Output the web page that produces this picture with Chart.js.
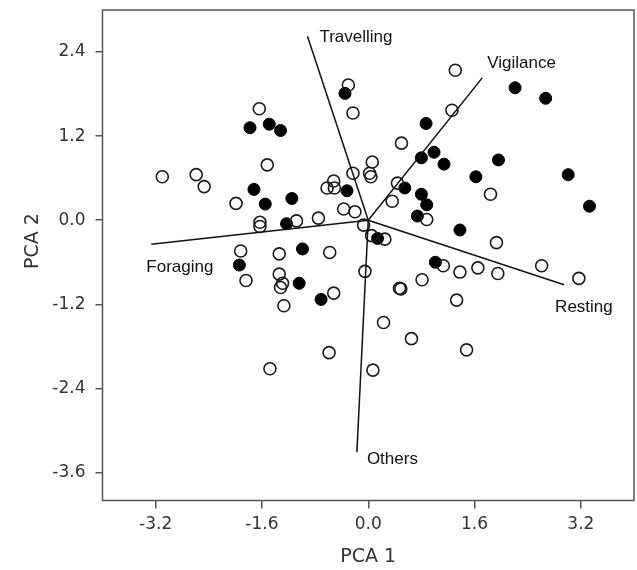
<!DOCTYPE html>
<html><head><meta charset="utf-8">
<script src="https://cdn.jsdelivr.net/npm/chart.js@4/dist/chart.umd.min.js"></script>
<style>html,body{margin:0;padding:0;background:#fff}#wrap{width:637px;height:570px}</style>
</head><body><div id="wrap"><canvas id="c" width="637" height="570"></canvas></div>
<script>
// Tick labels
const xTicks = [-3.2, -1.6, 0, 1.6, 3.2];
const yTicks = [2.4, 1.2, 0, -1.2, -2.4, -3.6];

// Open circles (scores, group 1)
const openX = [-1.64,-0.23,-0.30,-1.52,-3.10,-2.59,-2.47,-1.99,-1.63,-1.63,-1.08,-0.75,-0.62,-0.52,-0.51,-0.23,0.06,0.02,0.04,-0.37,-0.20,-0.07,0.05,1.31,1.26,0.50,0.44,0.36,0.88,1.84,1.93,0.25,1.13,1.38,1.65,1.95,2.61,3.17,0.81,0.47,0.49,1.33,0.23,0.65,1.48,0.07,-1.92,-1.34,-0.58,-1.84,-1.34,-1.29,-1.32,-0.52,-1.27,-0.05,-0.59,-1.48];
const openY = [1.59,1.53,1.93,0.79,0.62,0.65,0.48,0.24,-0.03,-0.09,-0.01,0.03,0.46,0.56,0.46,0.67,0.83,0.67,0.62,0.16,0.12,-0.07,-0.22,2.14,1.57,1.10,0.53,0.27,0.01,0.37,-0.32,-0.27,-0.65,-0.74,-0.68,-0.76,-0.65,-0.83,-0.85,-0.97,-0.98,-1.14,-1.46,-1.69,-1.85,-2.14,-0.44,-0.48,-0.46,-0.86,-0.77,-0.90,-0.96,-1.04,-1.22,-0.73,-1.89,-2.12];

// Filled circles (scores, group 2)
const filledX = [-0.35,-1.78,-1.49,-1.32,-1.72,-1.55,-1.15,-1.23,-0.32,0.14,2.21,2.67,0.87,0.99,0.80,1.14,1.96,1.62,3.01,3.33,0.55,0.80,0.88,0.74,1.38,1.01,-1.94,-0.99,-1.04,-0.71];
const filledY = [1.81,1.32,1.37,1.28,0.44,0.23,0.31,-0.05,0.42,-0.26,1.89,1.74,1.38,0.97,0.89,0.80,0.86,0.62,0.65,0.20,0.46,0.37,0.22,0.06,-0.14,-0.60,-0.64,-0.41,-0.90,-1.13];

// Loading vectors
const vectorNames = ['Travelling','Vigilance','Resting','Others','Foraging'];
const vectorX = [-0.915, 1.716, 2.948, -0.171, -3.265];
const vectorY = [2.625, 2.031, -0.922, -3.311, -0.342];

// label offsets in pixels from the vector tip (style, not data)
const labelOffsets = [[12,1],[5,-15],[-9,22],[10,7],[-5,23]];

const toPts = (xs, ys) => xs.map((x, i) => ({x, y: ys[i]}));

const datasets = [];
vectorNames.forEach((n, i) => {
  datasets.push({
    label: n, data: [{x:0,y:0},{x:vectorX[i], y:vectorY[i]}],
    showLine: true, borderColor: '#111', borderWidth: 1.5, pointRadius: 0, fill: false
  });
});
datasets.push({label:'open', data: toPts(openX, openY), pointRadius: 6, pointBorderWidth: 1.6,
  pointBorderColor: '#1a1a1a', pointBackgroundColor: 'rgba(255,255,255,0)', showLine: false});
datasets.push({label:'filled', data: toPts(filledX, filledY), pointRadius: 6, pointBorderWidth: 1,
  pointBorderColor: '#000', pointBackgroundColor: '#000', showLine: false});

const framePlugin = {
  id: 'frame',
  afterDraw(chart) {
    const {ctx, chartArea: a, scales} = chart;
    ctx.save();
    ctx.strokeStyle = '#555';
    ctx.lineWidth = 1.5;
    ctx.strokeRect(a.left, a.top, a.right - a.left, a.bottom - a.top);
    // vector labels
    ctx.fillStyle = '#111';
    ctx.font = '17px "Liberation Sans", Arial, sans-serif';
    ctx.textAlign = 'left';
    ctx.textBaseline = 'middle';
    vectorNames.forEach((n, i) => {
      const px = scales.x.getPixelForValue(vectorX[i]) + labelOffsets[i][0];
      const py = scales.y.getPixelForValue(vectorY[i]) + labelOffsets[i][1];
      ctx.fillText(n, px, py);
    });
    // y axis title
    ctx.fillStyle = '#333';
    ctx.font = '19px "DejaVu Sans", Verdana, sans-serif';
    ctx.textAlign = 'center';
    ctx.translate(33, 241);
    ctx.rotate(-Math.PI/2);
    ctx.fillText('PCA 2', 0, 0);
    ctx.restore();
  }
};

const noPad = s => { s.paddingTop = 0; s.paddingBottom = 0; s.paddingLeft = 0; s.paddingRight = 0; };

new Chart(document.getElementById('c'), {
  type: 'scatter',
  data: { datasets },
  plugins: [framePlugin],
  options: {
    responsive: false, devicePixelRatio: 1, animation: false,
    layout: { autoPadding: false, padding: { left: 0, right: 3, top: 10, bottom: 0 } },
    plugins: { legend: { display: false }, tooltip: { enabled: false } },
    scales: {
      x: {
        type: 'linear', min: -4, max: 4,
        afterBuildTicks: s => { s.ticks = xTicks.map(v => ({value: v})); },
        afterFit: s => { s.height = 69.5; noPad(s); },
        grid: { drawOnChartArea: false, drawTicks: true, tickLength: 8, color: '#555', lineWidth: 1.5 },
        border: { display: false },
        ticks: { padding: 6, color: '#333', font: { family: '"DejaVu Sans", Verdana, sans-serif', size: 17 },
          callback: v => Number(v).toFixed(1), maxRotation: 0, autoSkip: false },
        title: { display: true, text: 'PCA 1', color: '#333', padding: {top: 0, bottom: 2},
          font: { family: '"DejaVu Sans", Verdana, sans-serif', size: 19 } }
      },
      y: {
        type: 'linear', min: -4, max: 3,
        afterBuildTicks: s => { s.ticks = yTicks.slice().sort((a, b) => a - b).map(v => ({value: v})); },
        afterFit: s => { s.width = 102.5; noPad(s); },
        grid: { drawOnChartArea: false, drawTicks: true, tickLength: 7, color: '#555', lineWidth: 1.5 },
        border: { display: false },
        ticks: { padding: 10, color: '#333', font: { family: '"DejaVu Sans", Verdana, sans-serif', size: 17 },
          callback: v => Number(v).toFixed(1), autoSkip: false }
      }
    }
  }
});
</script></body></html>
